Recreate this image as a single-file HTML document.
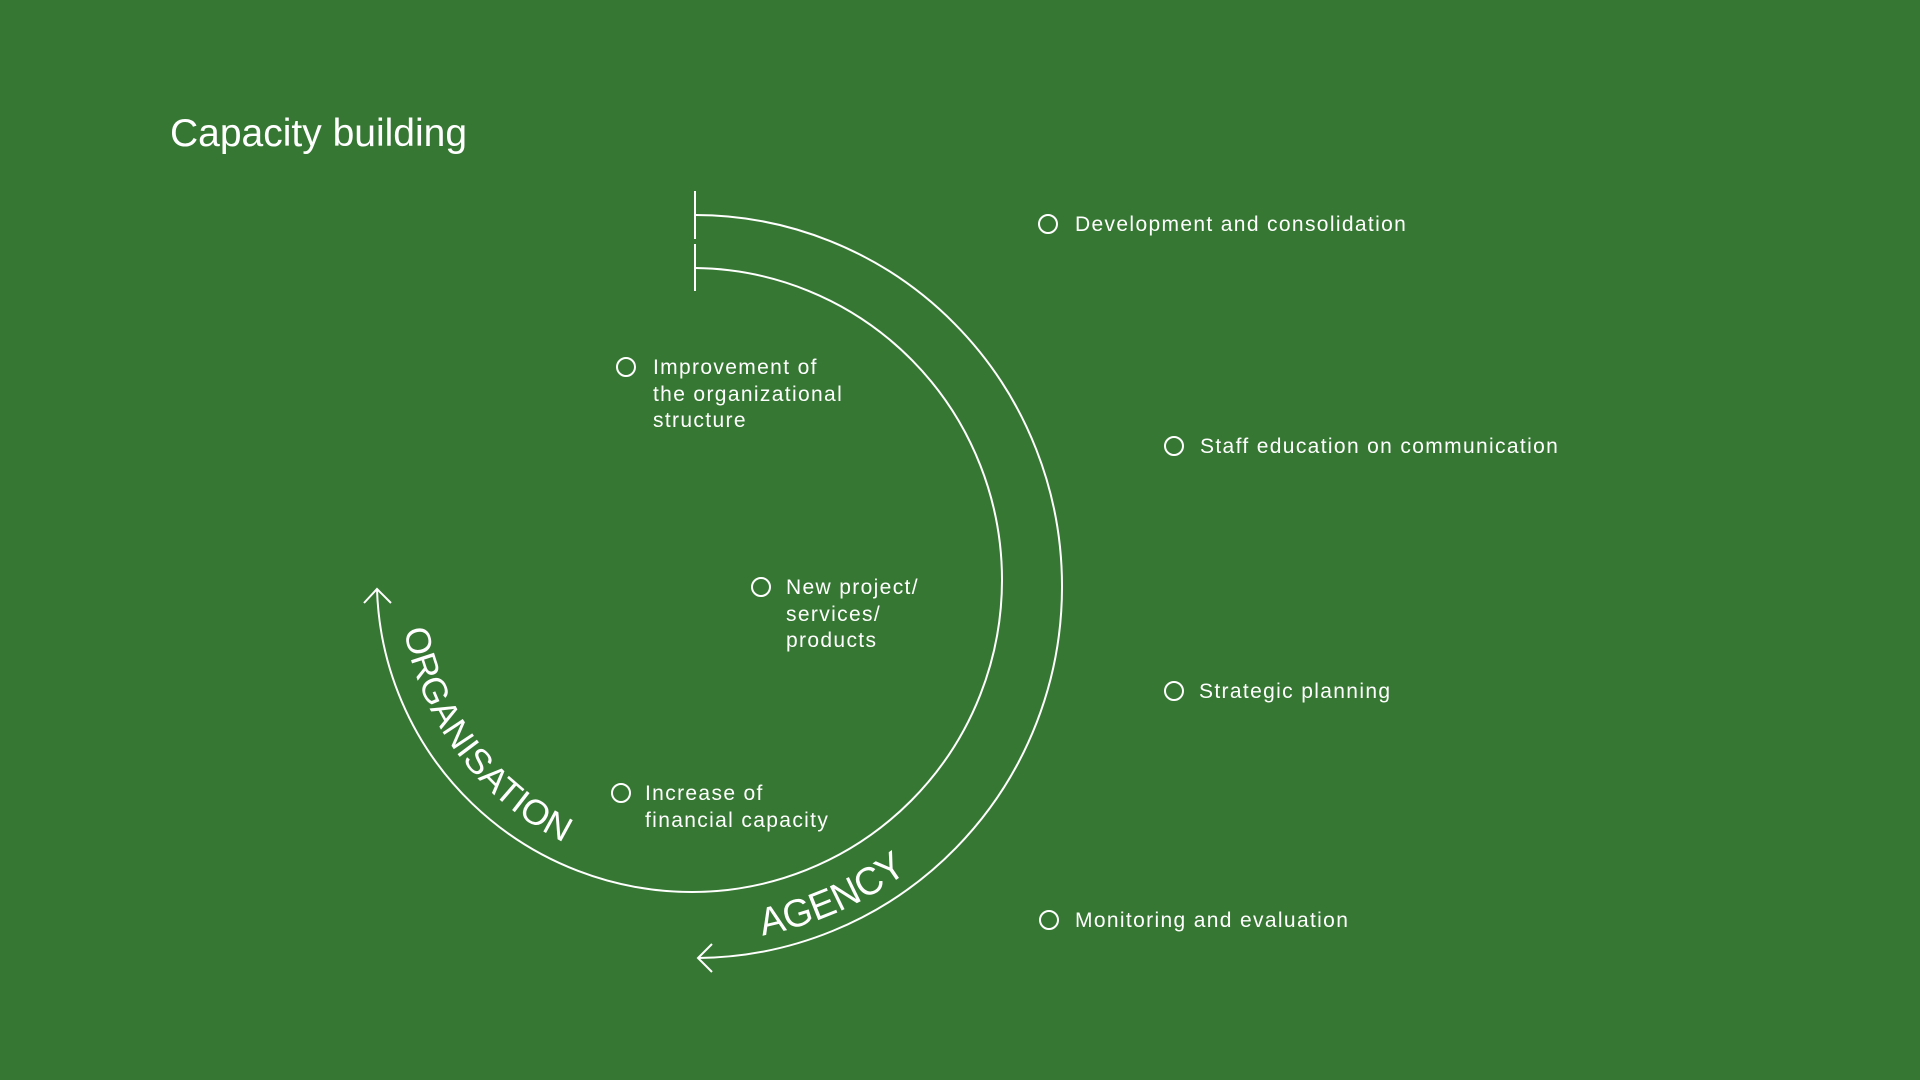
<!DOCTYPE html>
<html><head><meta charset="utf-8"><style>
html,body{margin:0;padding:0}
body{width:1920px;height:1080px;background:#367833;overflow:hidden;position:relative;font-family:"Liberation Sans",sans-serif;color:#fff}
.t{position:absolute;font-size:39px;left:170px;top:112px;white-space:nowrap}
.i{position:absolute;font-size:21px;line-height:26.5px;letter-spacing:1.35px;white-space:nowrap}
.c{position:absolute;width:16px;height:16px;border:2px solid #fff;border-radius:50%}
</style></head><body>
<div class="t">Capacity building</div>
<svg width="1920" height="1080" style="position:absolute;left:0;top:0" fill="none" stroke="#fff" stroke-width="2">
<line x1="695" y1="191" x2="695" y2="239"/>
<line x1="695" y1="244" x2="695" y2="291"/>
<path d="M695 215 A367 371 0 0 1 1062 586 A367 371 0 0 1 698 958"/>
<path d="M695 268 A310 312 0 0 1 1002 580 A310 312 0 0 1 692 892 A315 312 0 0 1 377 589"/>
<polyline points="364,603 377,589 391,603"/>
<polyline points="712,944 698,958 712,972"/>
<path id="po" d="M400 580 A292 292 0 0 0 692 872" stroke="none"/>
<path id="pa" d="M695 942 A356 356 0 0 0 1051 586" stroke="none"/>
<text font-family="Liberation Sans, sans-serif" font-size="35" fill="#fff" stroke="none"><textPath href="#po" startOffset="50" textLength="276" lengthAdjust="spacingAndGlyphs">ORGANISATION</textPath></text>
<text font-family="Liberation Sans, sans-serif" font-size="39" fill="#fff" stroke="none"><textPath href="#pa" startOffset="68" textLength="160" lengthAdjust="spacingAndGlyphs">AGENCY</textPath></text>
</svg>
<div class="c" style="left:1038px;top:214px"></div><div class="i" style="left:1075px;top:212px">Development and consolidation</div>
<div class="c" style="left:1164px;top:436px"></div><div class="i" style="left:1200px;top:434px">Staff education on communication</div>
<div class="c" style="left:1164px;top:681px"></div><div class="i" style="left:1199px;top:679px">Strategic planning</div>
<div class="c" style="left:1039px;top:910px"></div><div class="i" style="left:1075px;top:908px">Monitoring and evaluation</div>
<div class="c" style="left:616px;top:357px"></div><div class="i" style="left:653px;top:355px">Improvement of<br>the organizational<br>structure</div>
<div class="c" style="left:751px;top:577px"></div><div class="i" style="left:786px;top:575px">New project/<br>services/<br>products</div>
<div class="c" style="left:611px;top:783px"></div><div class="i" style="left:645px;top:781px">Increase of<br>financial capacity</div>
</body></html>
